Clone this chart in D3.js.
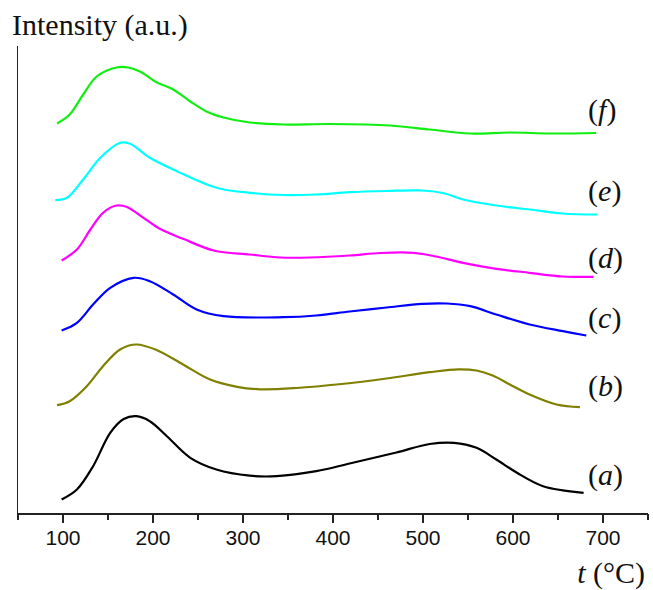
<!DOCTYPE html>
<html>
<head>
<meta charset="utf-8">
<script src="https://cdnjs.cloudflare.com/ajax/libs/d3/7.8.5/d3.min.js"></script>
<style>
  body { margin: 0; background: #fff; }
  .axis path, .axis line { stroke: #222; stroke-width: 1.2px; shape-rendering: crispEdges; }
  .axis text { font-family: "Liberation Sans", Arial, sans-serif; font-size: 21px; fill: #111; }
  .ttl { font-family: "Liberation Serif", "Times New Roman", serif; font-size: 30px; fill: #111; }
</style>
</head>
<body>
<div id="chart"></div>
<script>
// temperatures (deg C) and stacked intensities (a.u.)
var tA = [99, 116, 134, 153, 168, 182, 197, 216, 242, 271, 308, 338, 382, 419, 471, 508, 535, 560, 582, 605, 634, 679];
var curveA = [1.4, 2.4, 4.73, 8.07, 9.45, 9.73, 9.23, 7.73, 5.57, 4.4, 3.78, 3.73, 4.23, 5.0, 6.1, 6.95, 7.07, 6.57, 5.4, 4.07, 2.73, 2.07];

var tB = [94, 108, 127, 145, 164, 182, 205, 234, 264, 294, 320, 360, 410, 460, 508, 540, 560, 578, 597, 619, 649, 675];
var curveB = [10.83, 11.23, 12.73, 14.73, 16.4, 16.9, 16.33, 14.9, 13.4, 12.67, 12.42, 12.55, 12.95, 13.5, 14.13, 14.42, 14.3, 13.8, 12.9, 11.9, 10.9, 10.63];

var tC = [99, 116, 134, 153, 179, 197, 223, 249, 279, 345, 382, 419, 460, 500, 527, 553, 582, 619, 656, 682];
var curveC = [18.3, 19.07, 20.9, 22.57, 23.57, 23.23, 21.9, 20.4, 19.73, 19.63, 19.8, 20.2, 20.6, 20.97, 21.0, 20.73, 19.9, 18.9, 18.23, 17.8];

var tD = [99, 116, 131, 145, 160, 171, 190, 208, 234, 268, 308, 342, 375, 419, 453, 490, 515, 545, 582, 619, 656, 690];
var curveD = [25.3, 26.4, 28.4, 30.07, 30.8, 30.67, 29.57, 28.47, 27.47, 26.3, 25.9, 25.6, 25.6, 25.8, 26.05, 26.07, 25.7, 25.07, 24.47, 24.07, 23.7, 23.67];

var tE = [92, 105, 123, 142, 164, 175, 197, 227, 271, 308, 345, 382, 419, 460, 500, 525, 545, 582, 619, 656, 694];
var curveE = [31.33, 31.57, 33.4, 35.57, 37.07, 36.97, 35.57, 34.23, 32.57, 32.07, 31.85, 31.9, 32.13, 32.25, 32.3, 32.0, 31.4, 30.8, 30.4, 30.0, 29.9];

var tF = [94, 108, 123, 138, 160, 173, 186, 205, 223, 242, 260, 279, 308, 345, 397, 464, 508, 553, 597, 642, 693];
var curveF = [39.0, 39.9, 41.9, 43.7, 44.6, 44.6, 44.2, 43.1, 42.4, 41.2, 40.2, 39.6, 39.1, 38.9, 38.95, 38.8, 38.4, 38.0, 38.1, 38.0, 38.05];

var seriesNames = ['a', 'b', 'c', 'd', 'e', 'f'];
var xMajorTicks = [100, 200, 300, 400, 500, 600, 700];
var xMinorTicks = [50, 150, 250, 350, 450, 550, 650, 750];

var w = 653, h = 590;
var svg = d3.select('#chart').append('svg').attr('width', w).attr('height', h);

var x = d3.scaleLinear().domain([50, 750]).range([17.5, 647.5]);
var y = d3.scaleLinear().domain([0, 47]).range([513.5, 43.5]);

var colors = ['#000000', '#808000', '#0000ff', '#ff00ff', '#00ffff', '#11ee11'];
var temps = [tA, tB, tC, tD, tE, tF];
var vals = [curveA, curveB, curveC, curveD, curveE, curveF];
// where the (a)...(f) tags sit: [temperature, intensity]
var tagPos = [[684, 2.9], [684, 11.8], [684, 18.6], [684, 24.6], [684, 31.3], [684, 39.4]];

var line = d3.line()
  .x(function(d) { return x(d[0]); })
  .y(function(d) { return y(d[1]); })
  .curve(d3.curveCatmullRom.alpha(0.5));

seriesNames.forEach(function(name, i) {
  var pts = temps[i].map(function(t, j) { return [t, vals[i][j]]; });
  svg.append('path')
    .datum(pts)
    .attr('d', line)
    .attr('fill', 'none')
    .attr('stroke', colors[i])
    .attr('stroke-width', 2.2)
    .attr('stroke-linejoin', 'round');

  var tag = svg.append('text').attr('class', 'ttl')
    .attr('x', x(tagPos[i][0]))
    .attr('y', y(tagPos[i][1]));
  tag.append('tspan').text('(');
  tag.append('tspan').style('font-style', 'italic').text(name);
  tag.append('tspan').text(')');
});

// x axis, major + minor ticks
svg.append('g').attr('class', 'axis')
  .attr('transform', 'translate(0,' + y(0) + ')')
  .call(d3.axisBottom(x).tickValues(xMinorTicks).tickSize(6).tickSizeOuter(0).tickFormat(''));
svg.append('g').attr('class', 'axis')
  .attr('transform', 'translate(0,' + y(0) + ')')
  .call(d3.axisBottom(x).tickValues(xMajorTicks).tickSize(9).tickSizeOuter(0).tickPadding(8).tickFormat(d3.format('d')));

// y axis: plain line, no ticks
svg.append('line')
  .attr('x1', x(50)).attr('x2', x(50))
  .attr('y1', y(0)).attr('y2', y(46.8))
  .attr('stroke', '#222').attr('stroke-width', 1.2)
  .style('shape-rendering', 'crispEdges');

svg.append('text').attr('class', 'ttl')
  .attr('x', 12).attr('y', 35)
  .text('Intensity (a.u.)');

var xt = svg.append('text').attr('class', 'ttl')
  .attr('x', 645).attr('y', 583)
  .attr('text-anchor', 'end');
xt.append('tspan').style('font-style', 'italic').text('t');
xt.append('tspan').text(' (°C)');
</script>
</body>
</html>
